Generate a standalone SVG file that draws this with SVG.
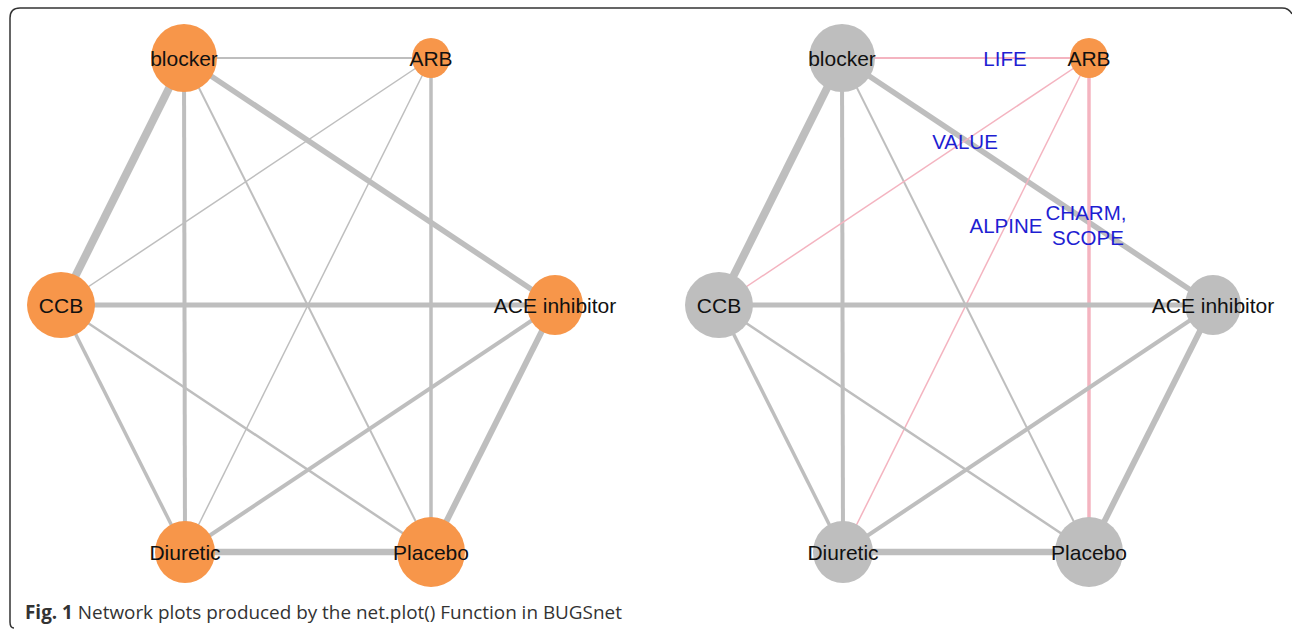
<svg xmlns="http://www.w3.org/2000/svg" width="1292" height="630" viewBox="0 0 1292 630">
<style>
.e{stroke:#bebebe;fill:none;stroke-linecap:butt}
.p{stroke:#f4b4c0;fill:none}
.no{fill:#f7964a}
.ng{fill:#bebebe}
.lb{font-family:"Liberation Sans",Arial,sans-serif;font-size:21px;fill:#111;text-anchor:middle}
.st{font-family:"Liberation Sans",Arial,sans-serif;font-size:20.5px;fill:#1e1ed2;text-anchor:middle}
.cap{font-family:"Open Sans",sans-serif;font-size:18.9px;fill:#333}
</style>
<rect width="1292" height="630" fill="#fff"/>
<path d="M14 628 Q10 628 10 622 L10 18 Q10 8 20 8 L1282 8 Q1289 8 1292 14" fill="none" stroke="#333" stroke-width="1.5"/>
<g id="connectors">
<g id="left-edges">
<line class="e" x1="184" y1="58" x2="431" y2="58" stroke-width="2"/>
<line class="e" x1="184" y1="58" x2="61" y2="305" stroke-width="8"/>
<line class="e" x1="184" y1="58" x2="185" y2="552" stroke-width="4"/>
<line class="e" x1="184" y1="58" x2="431" y2="552" stroke-width="2"/>
<line class="e" x1="184" y1="58" x2="555" y2="305" stroke-width="5.5"/>
<line class="e" x1="431" y1="58" x2="61" y2="305" stroke-width="1.5"/>
<line class="e" x1="431" y1="58" x2="185" y2="552" stroke-width="1.5"/>
<line class="e" x1="431" y1="58" x2="431" y2="552" stroke-width="3.5"/>
<line class="e" x1="61" y1="305" x2="555" y2="305" stroke-width="5"/>
<line class="e" x1="61" y1="305" x2="185" y2="552" stroke-width="3.5"/>
<line class="e" x1="61" y1="305" x2="431" y2="552" stroke-width="2.5"/>
<line class="e" x1="555" y1="305" x2="185" y2="552" stroke-width="4"/>
<line class="e" x1="555" y1="305" x2="431" y2="552" stroke-width="6"/>
<line class="e" x1="185" y1="552" x2="431" y2="552" stroke-width="6.5"/>
</g>
<g id="right-edges">
<line class="p" x1="842" y1="58" x2="1089" y2="58" stroke-width="2"/>
<line class="e" x1="842" y1="58" x2="719" y2="305" stroke-width="8"/>
<line class="e" x1="842" y1="58" x2="843" y2="552" stroke-width="4"/>
<line class="e" x1="842" y1="58" x2="1089" y2="552" stroke-width="2"/>
<line class="e" x1="842" y1="58" x2="1213" y2="305" stroke-width="5.5"/>
<line class="p" x1="1089" y1="58" x2="719" y2="305" stroke-width="1.5"/>
<line class="p" x1="1089" y1="58" x2="843" y2="552" stroke-width="1.5"/>
<line class="p" x1="1089" y1="58" x2="1089" y2="552" stroke-width="3.5"/>
<line class="e" x1="719" y1="305" x2="1213" y2="305" stroke-width="5"/>
<line class="e" x1="719" y1="305" x2="843" y2="552" stroke-width="3.5"/>
<line class="e" x1="719" y1="305" x2="1089" y2="552" stroke-width="2.5"/>
<line class="e" x1="1213" y1="305" x2="843" y2="552" stroke-width="4"/>
<line class="e" x1="1213" y1="305" x2="1089" y2="552" stroke-width="6"/>
<line class="e" x1="843" y1="552" x2="1089" y2="552" stroke-width="6.5"/>
</g>
</g>
<g id="L-blocker"><ellipse class="no" cx="184" cy="58" rx="33" ry="34"/><text class="lb" x="184" y="66">blocker</text></g>
<g id="L-ARB"><ellipse class="no" cx="431" cy="58" rx="19" ry="20"/><text class="lb" x="431" y="66">ARB</text></g>
<g id="L-CCB"><ellipse class="no" cx="61" cy="305" rx="34" ry="33"/><text class="lb" x="61" y="313">CCB</text></g>
<g id="L-ACE"><ellipse class="no" cx="555" cy="305" rx="28" ry="30"/><text class="lb" x="555" y="313">ACE inhibitor</text></g>
<g id="L-Diuretic"><ellipse class="no" cx="185" cy="552" rx="30" ry="31"/><text class="lb" x="185" y="560">Diuretic</text></g>
<g id="L-Placebo"><ellipse class="no" cx="431" cy="552" rx="34" ry="35"/><text class="lb" x="431" y="560">Placebo</text></g>
<g id="R-blocker"><ellipse class="ng" cx="842" cy="58" rx="33" ry="34"/><text class="lb" x="842" y="66">blocker</text></g>
<g id="R-ARB"><ellipse class="no" cx="1089" cy="58" rx="19" ry="20"/><text class="lb" x="1089" y="66">ARB</text></g>
<g id="R-CCB"><ellipse class="ng" cx="719" cy="305" rx="34" ry="33"/><text class="lb" x="719" y="313">CCB</text></g>
<g id="R-ACE"><ellipse class="ng" cx="1213" cy="305" rx="28" ry="30"/><text class="lb" x="1213" y="313">ACE inhibitor</text></g>
<g id="R-Diuretic"><ellipse class="ng" cx="843" cy="552" rx="30" ry="31"/><text class="lb" x="843" y="560">Diuretic</text></g>
<g id="R-Placebo"><ellipse class="ng" cx="1089" cy="552" rx="34" ry="35"/><text class="lb" x="1089" y="560">Placebo</text></g>
<g id="study-labels">
<text class="st" x="1005" y="66">LIFE</text>
<text class="st" x="965" y="149">VALUE</text>
<text class="st" x="1006" y="233">ALPINE</text>
<text class="st" x="1086" y="220">CHARM,</text>
<text class="st" x="1088" y="245">SCOPE</text>
</g>
<text class="cap" x="25" y="619"><tspan font-weight="bold">Fig. 1</tspan> Network plots produced by the net.plot() Function in BUGSnet</text>
</svg>
